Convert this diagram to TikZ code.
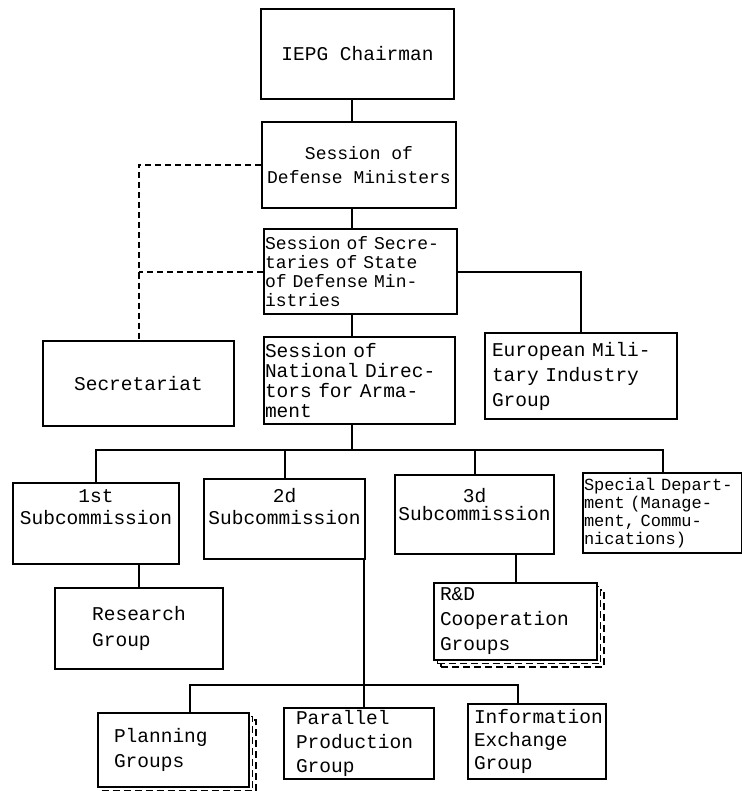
\documentclass[tikz,border=0pt]{standalone}
\usepackage{fontspec}
\newfontfamily\typefont{Liberation Mono}
\usetikzlibrary{shadows}

\begin{document}
\begin{tikzpicture}[x=1pt, y=-1pt,
    box/.style={draw, line width=2pt, fill=white, anchor=north west, inner xsep=0pt, inner ysep=0pt, align=center, font=\typefont\fontsize{19.5}{20}\selectfont},
    lbox/.style={box, align=left},
    stack/.style={copy shadow={shadow xshift=7pt, shadow yshift=-7pt, dash pattern=on 7pt off 4pt, line width=1.4pt}, copy shadow={shadow xshift=3.5pt, shadow yshift=-3.5pt, dash pattern=on 7pt off 4pt, line width=1.4pt}},
    link/.style={line width=2pt},
    dotlink/.style={line width=2pt, dash pattern=on 6pt off 4pt}]
   \fill[white] (0,0) rectangle (741,791);
   \useasboundingbox (0,0) rectangle (741,791);

   \node[box, minimum width=193pt, minimum height=90pt] (chair) at (260,8) {IEPG Chairman};
   \node[box, minimum width=194pt, minimum height=86pt, font=\typefont\fontsize{18}{24}\selectfont] (defmin) at (261,121) {Session of\\Defense Ministers};
   \node[lbox, minimum width=193pt, minimum height=85pt, text width=191pt, inner xsep=1pt, font=\typefont\fontsize{18}{19}\selectfont] (secstate) at (263,228) {Session of Secre-\\taries of State\\of Defense Min-\\istries};
   \node[box, minimum width=191pt, minimum height=85pt] (secretariat) at (42,340) {Secretariat};
   \node[lbox, minimum width=191pt, minimum height=87pt, text width=189pt, inner xsep=1pt] (natdir) at (263,336) {Session of\\National Direc-\\tors for Arma-\\ment};
   \node[lbox, minimum width=192pt, minimum height=86pt, text width=178pt, inner xsep=7pt, font=\typefont\fontsize{19.5}{25}\selectfont] (europe) at (484,332) {European Mili-\\tary Industry\\Group};

   \node[box, minimum width=166pt, minimum height=81pt, text depth=32pt, font=\typefont\fontsize{19.5}{22}\selectfont] (sub1) at (12,482) {1st\\Subcommission};
   \node[box, minimum width=161pt, minimum height=80pt, text depth=26pt, font=\typefont\fontsize{19.5}{22}\selectfont] (sub2) at (203,478) {2d\\Subcommission};
   \node[box, minimum width=159pt, minimum height=79pt, text depth=20pt, font=\typefont\fontsize{19.5}{18}\selectfont] (sub3) at (394,474) {3d\\Subcommission};
   \node[lbox, minimum width=159pt, minimum height=80pt, text width=157pt, inner xsep=1pt, font=\typefont\fontsize{17}{18}\selectfont] (special) at (582,472) {Special Depart-\\ment (Manage-\\ment, Commu-\\nications)};

   \node[box, align=left, minimum width=168pt, minimum height=81pt, font=\typefont\fontsize{19.5}{26}\selectfont] (research) at (54,587) {Research\\Group};
   \node[lbox, stack, minimum width=163pt, minimum height=77pt, text width=151pt, inner xsep=6pt, font=\typefont\fontsize{19.5}{25}\selectfont] (rnd) at (433,582) {R\&D\\Cooperation\\Groups};
   \node[lbox, stack, minimum width=151pt, minimum height=74pt, text width=119pt, inner xsep=16pt, font=\typefont\fontsize{19.5}{25}\selectfont] (planning) at (97,712) {Planning\\Groups};
   \node[lbox, minimum width=150pt, minimum height=71pt, text width=126pt, inner xsep=12pt, font=\typefont\fontsize{19.5}{24}\selectfont] (parallel) at (283,707) {Parallel\\Production\\Group};
   \node[lbox, minimum width=138pt, minimum height=75pt, text width=126pt, inner xsep=6pt, font=\typefont\fontsize{19.5}{23}\selectfont] (info) at (467,703) {Information\\Exchange\\Group};

   \coordinate (spine) at (352,0);
   \coordinate (bus) at (352,450);
   \coordinate (lowbus) at (364,685);

   % main line
   \draw[link] (chair.south -| spine) -- (defmin.north -| spine);
   \draw[link] (defmin.south -| spine) -- (secstate.north -| spine);
   \draw[link] (secstate.south -| spine) -- (natdir.north -| spine);
   \draw[link] (natdir.south -| spine) -- (bus);
   \draw[link] (secstate.east) -| (europe.north);
   \draw[dotlink] (defmin.west) -| (secretariat.north);
   \draw[dotlink] (secstate.west) -- (secstate.west -| secretariat.north);

   % subcommissions
   \draw[link] (sub1.north) |- (bus) -| (special.north);
   \draw[link] (sub2.north) -- (sub2.north |- bus);
   \draw[link] (sub3.north) -- (sub3.north |- bus);
   \draw[link] (research.north) -- (research.north |- sub1.south);
   \draw[link] (rnd.north) -- (rnd.north |- sub3.south);
   \draw[link] (sub2.south -| lowbus) -- (parallel.north -| lowbus);
   \draw[link] ([xshift=16pt]planning.north) |- (lowbus) -| ([xshift=-19pt]info.north);
\end{tikzpicture}
\end{document}
